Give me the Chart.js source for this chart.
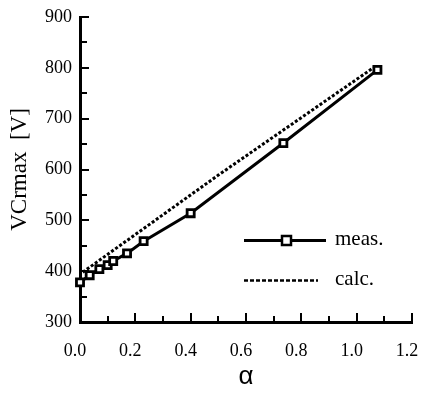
<!DOCTYPE html>
<html><head><meta charset="utf-8">
<script src="https://cdn.jsdelivr.net/npm/chart.js@4"></script>
<style>html,body{margin:0;padding:0;background:#fff}</style>
</head><body>
<canvas id="c" width="423" height="393" style="display:block;width:423px;height:393px"></canvas>
<script>
// Data
const measAlpha = [0.0, 0.035, 0.07, 0.1, 0.12, 0.17, 0.23, 0.4, 0.735, 1.075];
const measV     = [378, 392, 404, 412, 420, 435, 459, 514, 652, 796];
const calcAlpha = [0.01, 0.5, 1.06];
const calcV     = [398, 589, 800];
const seriesNames = ['meas.', 'calc.'];
const xRange = [0, 1.2], xMajorStep = 0.2, xMinorStep = 0.1;
const yRange = [300, 900], yMajorStep = 100, yMinorStep = 50;
const xTitle = 'α';
const yTitle = 'VCrmax  [V]';

const serif = '"Liberation Serif", "Times New Roman", serif';

const decor = {
  id: 'decor',
  afterDraw(chart) {
    const ctx = chart.ctx, xs = chart.scales.x, ys = chart.scales.y;
    ctx.save();
    ctx.strokeStyle = '#000';
    ctx.lineWidth = 2;
    // inward tick marks (y)
    for (let v = yRange[0]; v <= yRange[1] + 1e-9; v += yMinorStep) {
      const py = Math.round(ys.getPixelForValue(v));
      const major = Math.abs(v % yMajorStep) < 1e-6;
      ctx.beginPath();
      ctx.moveTo(xs.left, py);
      ctx.lineTo(xs.left + (major ? 9 : 7), py);
      ctx.stroke();
    }
    // inward tick marks (x)
    const n = Math.round((xRange[1] - xRange[0]) / xMinorStep);
    for (let i = 0; i <= n; i++) {
      const v = xRange[0] + i * xMinorStep;
      const px = Math.round(xs.getPixelForValue(v));
      const major = i % Math.round(xMajorStep / xMinorStep) === 0;
      ctx.beginPath();
      ctx.moveTo(px, ys.bottom);
      ctx.lineTo(px, ys.bottom - (major ? 9 : 6));
      ctx.stroke();
    }
    // legend
    const lx0 = 244, tx = 335;
    ctx.font = '21px ' + serif;
    ctx.fillStyle = '#000';
    ctx.textBaseline = 'middle';
    ctx.textAlign = 'left';
    // meas.
    let ly = 240.5;
    ctx.lineWidth = 3;
    ctx.setLineDash([]);
    ctx.beginPath(); ctx.moveTo(lx0, ly); ctx.lineTo(326, ly); ctx.stroke();
    ctx.fillStyle = '#fff';
    ctx.lineWidth = 2.5;
    ctx.fillRect(282, ly - 4.5, 9, 9);
    ctx.strokeRect(282, ly - 4.5, 9, 9);
    ctx.fillStyle = '#000';
    ctx.fillText(chart.data.datasets[0].label, tx, ly - 1);
    // calc.
    ly = 280.5;
    ctx.lineWidth = 2.5;
    ctx.setLineDash([4, 2]);
    ctx.beginPath(); ctx.moveTo(lx0, ly); ctx.lineTo(318, ly); ctx.stroke();
    ctx.setLineDash([]);
    ctx.fillText(chart.data.datasets[1].label, tx, ly - 1);
    ctx.restore();
  }
};

new Chart(document.getElementById('c'), {
  type: 'scatter',
  data: {
    datasets: [
      {
        label: seriesNames[0],
        data: measAlpha.map((a, i) => ({x: a, y: measV[i]})),
        showLine: true,
        clip: false,
        borderColor: '#000',
        borderWidth: 3,
        pointStyle: 'rect',
        pointRadius: 5,
        pointBorderWidth: 2.8,
        pointBackgroundColor: '#fff',
        pointBorderColor: '#000',
        order: 1
      },
      {
        label: seriesNames[1],
        data: calcAlpha.map((a, i) => ({x: a, y: calcV[i]})),
        showLine: true,
        clip: false,
        borderColor: '#000',
        borderWidth: 3,
        borderDash: [3, 2],
        pointRadius: 0,
        order: 2
      }
    ]
  },
  options: {
    responsive: false,
    animation: false,
    devicePixelRatio: 1,
    layout: {padding: {left: 0, top: 17, right: 11, bottom: 0}},
    plugins: {legend: {display: false}, tooltip: {enabled: false}},
    scales: {
      x: {
        type: 'linear',
        min: xRange[0], max: xRange[1],
        grid: {display: false, drawTicks: false},
        border: {display: true, width: 3, color: '#000'},
        ticks: {
          stepSize: xMajorStep,
          padding: 18,
          labelOffset: -5,
          color: '#000',
          font: {family: serif, size: 18},
          maxRotation: 0,
          callback: v => Number(v).toFixed(1)
        },
        title: {display: true, text: xTitle, color: '#000', font: {family: '"Liberation Sans", Arial, sans-serif', size: 26, lineHeight: 1}, padding: {top: 2, bottom: 3}},
        afterFit(s) { s.height = 71; s.paddingLeft = 0; s.paddingRight = 0; }
      },
      y: {
        type: 'linear',
        min: yRange[0], max: yRange[1],
        grid: {display: false, drawTicks: false},
        border: {display: true, width: 3, color: '#000'},
        ticks: {
          stepSize: yMinorStep,
          padding: 8,
          color: '#000',
          font: {family: serif, size: 18},
          callback: v => (v % yMajorStep === 0 ? String(v) : '')
        },
        title: {display: true, text: yTitle, color: '#000', font: {family: serif, size: 23, lineHeight: 1.2}, padding: {top: 6, bottom: 0}},
        afterFit(s) { s.width = 80; s.paddingTop = 0; s.paddingBottom = 0; }
      }
    }
  },
  plugins: [decor]
});
</script>
</body></html>
